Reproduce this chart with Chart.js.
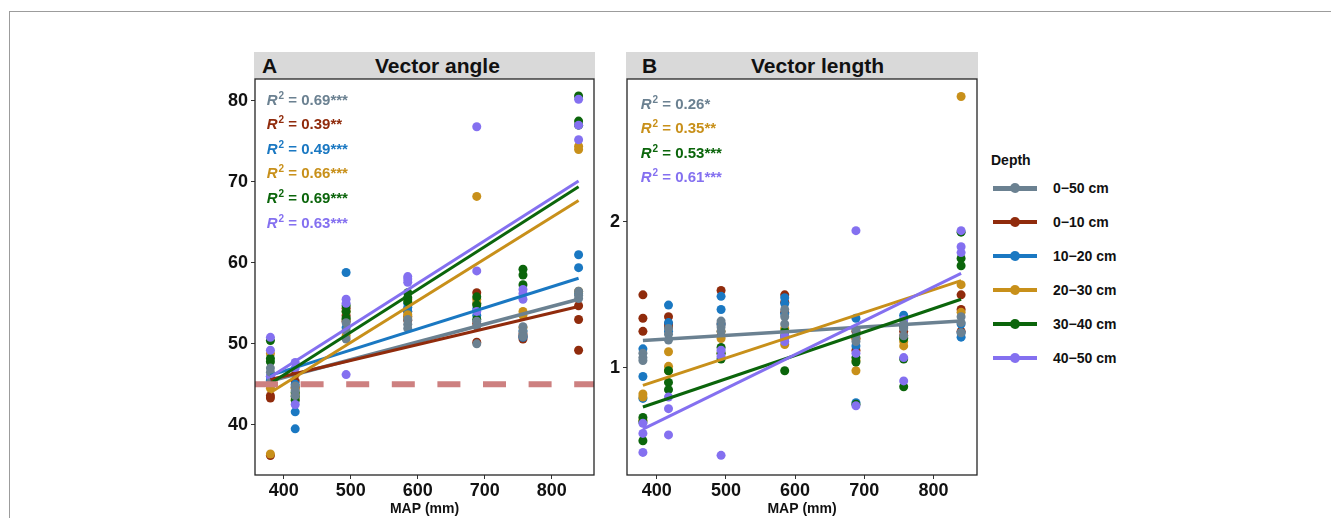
<!DOCTYPE html>
<html>
<head>
<meta charset="utf-8">
<title>Vector angle and length vs MAP</title>
<script src="https://cdn.jsdelivr.net/npm/chart.js@4.4.1/dist/chart.umd.min.js"></script>
<style>
  html, body { margin: 0; padding: 0; background: #fff; }
  body { width: 1331px; height: 518px; position: relative; overflow: hidden; font-family: "Liberation Sans", Arial, sans-serif; color: #111; }
  .frame { position: absolute; left: 9px; top: 11px; right: -5px; bottom: -5px; border-top: 1.5px solid #9c9c9c; border-left: 1.5px solid #9c9c9c; }
  canvas { position: absolute; }
  .strip { position: absolute; top: 52px; height: 27px; background: #d9d9d9; font-weight: bold; font-size: 21px; }
  .strip span { position: absolute; top: 3px; line-height: 21px; white-space: nowrap; }
  #legend { position: absolute; left: 991px; top: 150px; font-weight: bold; font-size: 14px; }
  #legend .title { position: absolute; left: 0; top: 2px; white-space: nowrap; }
  #legend .row { position: absolute; left: 2px; height: 20px; width: 150px; }
  #legend .key { position: absolute; left: 0; top: 8px; width: 44px; height: 4px; }
  #legend .dot { position: absolute; left: 17px; top: 5px; width: 10px; height: 10px; border-radius: 50%; }
  #legend .lab { position: absolute; left: 60px; top: 2px; white-space: nowrap; }
</style>
</head>
<body>
<div class="frame"></div>

<div class="strip" style="left:254px; width:341px;"><span style="left:8px;">A</span><span style="left:121px;">Vector angle</span></div>
<div class="strip" style="left:626px; width:352px;"><span style="left:16px;">B</span><span style="left:125px;">Vector length</span></div>

<canvas id="angleChart" width="405" height="469" style="left:195px; top:49px;"></canvas>
<canvas id="lengthChart" width="416" height="469" style="left:567px; top:49px;"></canvas>

<div id="legend"><div class="title">Depth</div></div>

<script>
// --- DATA ---

// Mean annual precipitation of the sampling sites (mm)
const mapSites = [380, 417, 493, 585, 688, 757, 840];
const mapAxis = [357, 863];
const mapTicks = [400, 500, 600, 700, 800];

const depthNames = ['0\u221250 cm', '0\u221210 cm', '10\u221220 cm', '20\u221230 cm', '30\u221240 cm', '40\u221250 cm'];

// Vector angle, three replicates per site
const angle0to50 = [[47.0, 46.5, 45.2], [44.8, 44.2, 43.6], [52.6, 51.6, 50.6], [53.0, 52.4, 51.9], [52.8, 52.2, 50.0], [52.1, 51.5, 50.9], [56.5, 56.0, 55.6]];
const angle0to10 = [[43.6, 43.3, 36.2], [46.2, 45.4, 44.6], [54.4, 53.5, 52.8], [54.0, 53.4, 52.9], [56.3, 52.5, 50.2], [51.2, 50.9, 50.6], [54.7, 53.0, 49.2]];
const angle10to20 = [[46.0, 45.5, 44.8], [45.0, 41.6, 39.5], [58.8, 53.0, 52.0], [55.0, 54.5, 54.0], [55.0, 54.3, 53.5], [51.6, 51.0, 50.8], [61.0, 59.4, 56.2]];
const angle20to30 = [[48.8, 44.5, 36.4], [44.5, 43.8, 43.2], [54.0, 53.0, 51.0], [55.5, 53.6, 53.2], [68.2, 55.5, 55.0], [54.0, 53.5, 52.0], [74.4, 74.0, 56.5]];
const angle30to40 = [[50.4, 48.2, 47.8], [44.0, 43.5, 43.0], [54.7, 54.0, 53.2], [56.3, 55.7, 55.2], [55.8, 54.8, 53.0], [59.2, 58.5, 57.3], [80.6, 77.5, 77.0]];
const angle40to50 = [[50.8, 49.2, 46.0], [47.7, 47.0, 42.5], [55.5, 55.0, 46.2], [58.3, 58.0, 57.6], [76.8, 59.0, 54.0], [56.7, 56.2, 55.5], [80.2, 77.0, 75.2]];

// Vector length, three replicates per site
const length0to50 = [[1.10, 1.07, 1.05], [1.27, 1.23, 1.19], [1.32, 1.28, 1.25], [1.40, 1.35, 1.30], [1.26, 1.22, 1.18], [1.30, 1.27, 1.22], [1.35, 1.31, 1.24]];
const length0to10 = [[1.50, 1.34, 1.25], [1.35, 1.30, 1.28], [1.53, 1.30, 1.22], [1.50, 1.45, 1.38], [1.25, 1.20, 1.12], [1.28, 1.25, 1.22], [1.50, 1.40, 1.25]];
const length10to20 = [[1.13, 0.94, 0.79], [1.43, 1.31, 1.25], [1.49, 1.40, 1.30], [1.48, 1.44, 1.37], [1.34, 1.15, 0.76], [1.36, 1.33, 1.29], [1.30, 1.24, 1.21]];
const length20to30 = [[0.82, 0.80, 0.64], [1.11, 1.01, 0.98], [1.25, 1.20, 1.10], [1.27, 1.20, 1.16], [1.20, 1.05, 0.98], [1.21, 1.18, 1.15], [2.86, 1.57, 1.38]];
const length30to40 = [[0.66, 0.63, 0.50], [0.98, 0.90, 0.85], [1.14, 1.10, 1.06], [1.25, 1.22, 0.98], [1.07, 1.04, 0.75], [1.20, 1.06, 0.87], [1.93, 1.75, 1.70]];
const length40to50 = [[0.62, 0.55, 0.42], [0.80, 0.72, 0.54], [1.12, 1.08, 0.40], [1.22, 1.20, 1.18], [1.94, 1.10, 0.74], [1.33, 1.07, 0.91], [1.94, 1.83, 1.79]];

// Fitted regression lines: value at the first and at the last site (null = not significant)
const angleFitStart = [45.4, 45.6, 46.1, 44.0, 45.1, 45.9];
const angleFitEnd = [55.5, 54.6, 58.1, 67.7, 69.4, 70.1];
const lengthFitStart = [1.187, null, null, 0.879, 0.731, 0.580];
const lengthFitEnd = [1.320, null, null, 1.598, 1.470, 1.648];

const angleR2 = ['0.69***', '0.39**', '0.49***', '0.66***', '0.69***', '0.63***'];
const lengthR2 = ['0.26*', null, null, '0.35**', '0.53***', '0.61***'];

const angleReference = 45;

const angleAxis = [33.8, 82.7];
const angleTicks = [40, 50, 60, 70, 80];
const lengthAxis = [0.265, 2.98];
const lengthTicks = [1, 2];

// --- STYLE ---

const FONT = '"Liberation Sans", Arial, sans-serif';
const depthColors = ['#6b8191', '#902b0c', '#1a78c2', '#c8901a', '#0b650b', '#8470f0'];
// points drawn bottom to top
const pointLayer = [1, 2, 3, 4, 5, 0];

// --- PLUGINS ---

const panelFrame = {
    id: 'panelFrame',
    afterDraw(chart) {
        const { ctx, chartArea: a } = chart;
        ctx.save();
        ctx.strokeStyle = '#262626';
        ctx.lineWidth = 1.3;
        ctx.strokeRect(a.left, a.top, a.right - a.left, a.bottom - a.top);
        ctx.restore();
    }
};

const refLine = {
    id: 'refLine',
    afterDatasetsDraw(chart, args, opts) {
        if (opts.value == null) return;
        const { ctx, chartArea: a, scales } = chart;
        const py = scales.y.getPixelForValue(opts.value);
        ctx.save();
        ctx.beginPath();
        ctx.rect(a.left, a.top, a.right - a.left, a.bottom - a.top);
        ctx.clip();
        ctx.beginPath();
        ctx.strokeStyle = '#cd8080';
        ctx.lineWidth = 6;
        ctx.setLineDash([23, 22.6]);
        ctx.moveTo(a.left, py);
        ctx.lineTo(a.right, py);
        ctx.stroke();
        ctx.restore();
    }
};

// R² annotations in the upper left corner of each panel
const r2Notes = {
    id: 'r2Notes',
    afterDraw(chart, args, opts) {
        const { ctx, chartArea: a } = chart;
        ctx.save();
        ctx.textBaseline = 'alphabetic';
        ctx.textAlign = 'left';
        let row = 0;
        opts.labels.forEach((txt, i) => {
            if (txt == null) return;
            const y = a.top + opts.first + row * opts.step;
            let x = a.left + opts.indent;
            ctx.fillStyle = depthColors[i];
            ctx.font = 'italic bold 15px ' + FONT;
            ctx.fillText('R', x, y);
            x += ctx.measureText('R').width + 1;
            ctx.font = 'bold 10px ' + FONT;
            ctx.fillText('2', x, y - 6);
            x += ctx.measureText('2').width;
            ctx.font = 'bold 15px ' + FONT;
            ctx.fillText(' = ' + txt, x, y);
            row++;
        });
        ctx.restore();
    }
};

// --- CHARTS ---

function pointSets(series) {
    return pointLayer.map((d, k) => ({
        data: series[d].flatMap((reps, s) => reps.map(v => ({ x: mapSites[s], y: v }))),
        backgroundColor: depthColors[d],
        borderWidth: 0,
        pointRadius: 4.5,
        pointHoverRadius: 4.5,
        showLine: false,
        order: 20 - k
    }));
}

function fitSets(starts, ends) {
    const sets = [];
    starts.forEach((v, d) => {
        if (v == null) return;
        sets.push({
            data: [{ x: mapSites[0], y: v }, { x: mapSites[mapSites.length - 1], y: ends[d] }],
            borderColor: depthColors[d],
            borderWidth: d === 0 ? 3.5 : 3,
            pointRadius: 0,
            showLine: true,
            fill: false,
            order: 8 - d
        });
    });
    return sets;
}

function scales(yRange, yTicks) {
    const tickFont = { family: FONT, weight: 'bold', size: 18 };
    const tickGrid = { drawOnChartArea: false, drawTicks: true, tickLength: 4, color: '#333', lineWidth: 1 };
    return {
        x: {
            type: 'linear',
            min: mapAxis[0],
            max: mapAxis[1],
            afterBuildTicks: s => { s.ticks = mapTicks.map(v => ({ value: v })); },
            afterFit: s => { s.height = 43; },
            grid: tickGrid,
            border: { display: false },
            ticks: { font: tickFont, color: '#111', padding: 1, maxRotation: 0, autoSkip: false },
            title: { display: true, text: 'MAP (mm)', font: { family: FONT, weight: 'bold', size: 14 }, color: '#111', padding: 0 }
        },
        y: {
            type: 'linear',
            min: yRange[0],
            max: yRange[1],
            afterBuildTicks: s => { s.ticks = yTicks.map(v => ({ value: v })); },
            afterFit: s => { s.width = 60; },
            grid: tickGrid,
            border: { display: false },
            ticks: { font: tickFont, color: '#111', padding: 3 }
        }
    };
}

function makeChart(id, series, fitStart, fitEnd, r2, yRange, yTicks, ref, note) {
    return new Chart(document.getElementById(id), {
        type: 'scatter',
        data: { datasets: [...fitSets(fitStart, fitEnd), ...pointSets(series)] },
        options: {
            responsive: false,
            animation: false,
            devicePixelRatio: 1,
            layout: { padding: { left: 0, right: 6, top: 30, bottom: 0 } },
            scales: scales(yRange, yTicks),
            plugins: {
                legend: { display: false },
                tooltip: { enabled: false },
                refLine: { value: ref },
                r2Notes: { labels: r2, first: note.first, step: note.step, indent: note.indent }
            }
        },
        plugins: [refLine, r2Notes, panelFrame]
    });
}

makeChart('angleChart',
    [angle0to50, angle0to10, angle10to20, angle20to30, angle30to40, angle40to50],
    angleFitStart, angleFitEnd, angleR2, angleAxis, angleTicks, angleReference,
    { first: 25.5, step: 24.6, indent: 11.7 });

makeChart('lengthChart',
    [length0to50, length0to10, length10to20, length20to30, length30to40, length40to50],
    lengthFitStart, lengthFitEnd, lengthR2, lengthAxis, lengthTicks, null,
    { first: 29.5, step: 24.5, indent: 13.7 });

// --- LEGEND ---

const legend = document.getElementById('legend');
depthNames.forEach((name, d) => {
    const row = document.createElement('div');
    row.className = 'row';
    row.style.top = (28 + d * 34) + 'px';
    row.innerHTML =
        '<div class="key" style="background:' + depthColors[d] + (d === 0 ? ';height:5px;top:7.5px' : '') + '"></div>' +
        '<div class="dot" style="background:' + depthColors[d] + '"></div>' +
        '<div class="lab">' + name + '</div>';
    legend.appendChild(row);
});
</script>
</body>
</html>
